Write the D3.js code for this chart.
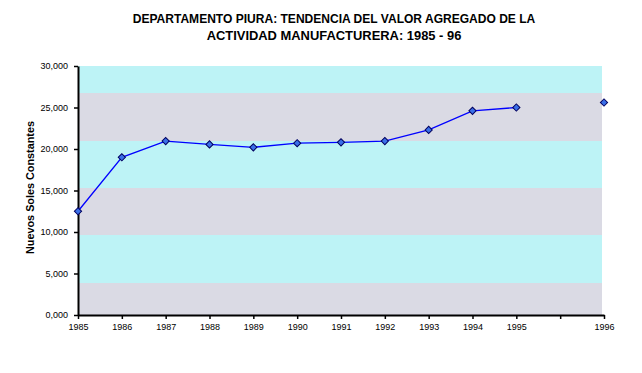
<!DOCTYPE html>
<html>
<head>
<meta charset="utf-8">
<script src="https://cdn.jsdelivr.net/npm/d3@7"></script>
<style>
  body { margin: 0; background: #fff; }
  svg text { font-family: "Liberation Sans", Arial, sans-serif; fill: #000; }
</style>
</head>
<body>
<div class="chart"></div>
<script>
// years on the category axis (one empty slot before 1996, as in the original)
const years = ["1985", "1986", "1987", "1988", "1989", "1990", "1991", "1992", "1993", "1994", "1995", "", "1996"];
const valores = [12500, 19000, 20950, 20550, 20200, 20700, 20800, 20950, 22300, 24600, 25000, null, 25600];
const yTicks = [0, 5000, 10000, 15000, 20000, 25000, 30000];
const titleLines = ["DEPARTAMENTO PIURA: TENDENCIA DEL VALOR AGREGADO DE LA", "ACTIVIDAD MANUFACTURERA: 1985 - 96"];
const yTitle = "Nuevos Soles Constantes";

const W = 642, H = 373;
const margin = {top: 66, right: 39, bottom: 58, left: 78},
      width = W - margin.left - margin.right,
      height = H - margin.top - margin.bottom;

const svg = d3.select(".chart").append("svg")
    .attr("width", W)
    .attr("height", H);

const g = svg.append("g")
    .attr("transform", "translate(" + margin.left + "," + margin.top + ")");

const x = d3.scalePoint()
    .domain(d3.range(years.length))
    .range([0, width + 1]);

const y = d3.scaleLinear()
    .domain([0, 30000])
    .range([height, 0]);

// background: the dithered fill shows up as alternating bands
const bandPx = [0, 27, 75, 122, 169, 217, height];
const bandColors = ["#bdf3f6", "#dadae4"];
g.selectAll(".band")
    .data(d3.pairs(bandPx))
    .enter().append("rect")
    .attr("class", "band")
    .attr("x", 0)
    .attr("y", d => d[0])
    .attr("width", width - 1)
    .attr("height", d => d[1] - d[0])
    .style("fill", (d, i) => bandColors[i % 2]);

// axes
const yAxis = d3.axisLeft(y)
    .tickValues(yTicks)
    .tickSize(4)
    .tickSizeOuter(0)
    .tickPadding(6)
    .tickFormat(d => d === 0 ? "0,000" : d3.format(",")(d));

g.append("g")
    .attr("class", "axis")
    .call(yAxis);

const xAxis = d3.axisBottom(x)
    .tickSize(4)
    .tickSizeOuter(0)
    .tickPadding(5)
    .tickFormat(i => years[i]);

g.append("g")
    .attr("class", "axis")
    .attr("transform", "translate(0," + height + ")")
    .call(xAxis);

g.selectAll(".axis .domain").attr("stroke", "#000").attr("stroke-width", 2);
g.selectAll(".axis line").attr("stroke", "#000").attr("stroke-width", 1.5);
g.selectAll(".axis text")
    .style("font-size", "9px")
    .style("font-family", "'Liberation Sans', Arial, sans-serif");

// line with a gap for the empty slot
const line = d3.line()
    .defined(d => d != null)
    .x((d, i) => x(i))
    .y(d => y(d));

g.append("path")
    .datum(valores)
    .attr("fill", "none")
    .attr("stroke", "#0000ff")
    .attr("stroke-width", 1.3)
    .attr("d", line);

// square diamonds, as in the original
const diamond = d3.symbol().type(d3.symbolSquare).size(26);
g.selectAll(".pt")
    .data(valores.map((v, i) => ({v, i})).filter(d => d.v != null))
    .enter().append("path")
    .attr("class", "pt")
    .attr("d", diamond)
    .attr("transform", d => "translate(" + x(d.i) + "," + y(d.v) + ") rotate(45)")
    .style("fill", "#3a6fe8")
    .style("stroke", "#000060")
    .style("stroke-width", 1);

// titles, squeezed horizontally to the original widths
const titleW = [403, 255];
svg.selectAll(".title")
    .data(titleLines)
    .enter().append("text")
    .attr("class", "title")
    .attr("text-anchor", "middle")
    .style("font-size", "13.5px")
    .style("font-weight", "bold")
    .text(d => d)
    .attr("transform", function (d, i) {
        const sx = titleW[i] / this.getComputedTextLength();
        return "translate(334," + (23 + i * 17) + ") scale(" + sx + ",1)";
    });

svg.append("text")
    .attr("transform", "translate(34," + (margin.top + height / 2 - 3) + ") rotate(-90)")
    .attr("text-anchor", "middle")
    .attr("textLength", 133)
    .attr("lengthAdjust", "spacingAndGlyphs")
    .style("font-size", "10px")
    .style("font-weight", "bold")
    .text(yTitle);
</script>
</body>
</html>
